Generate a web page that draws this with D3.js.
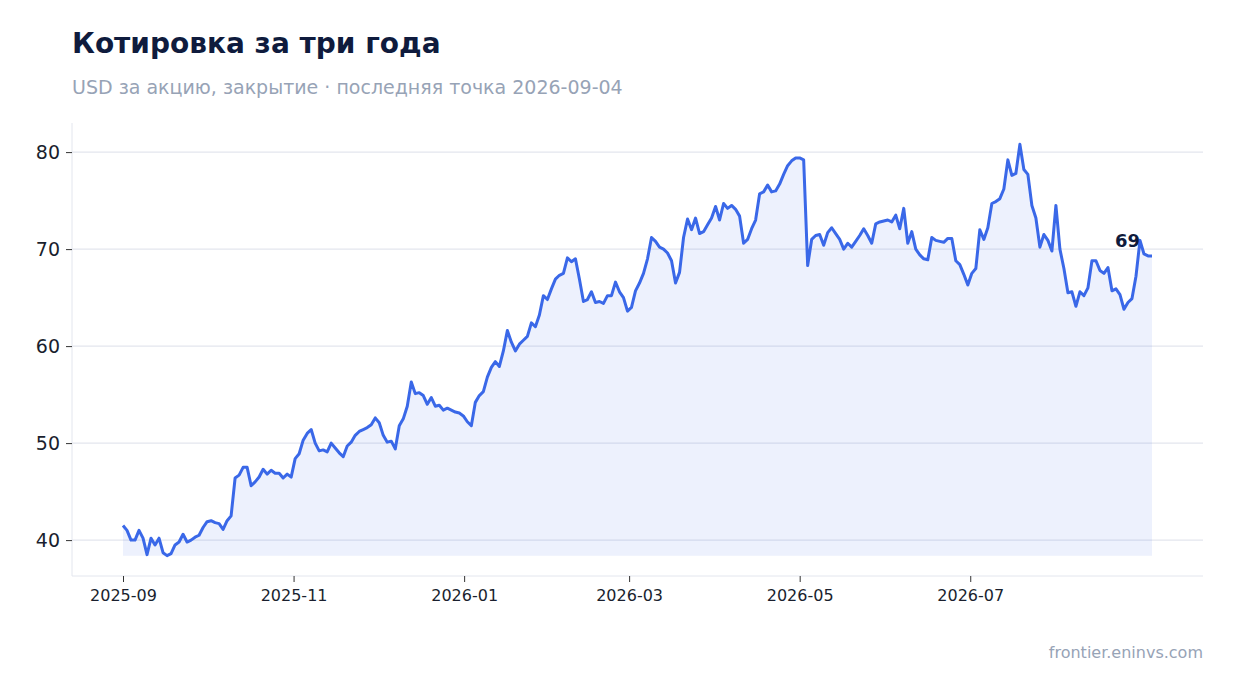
<!DOCTYPE html>
<html><head><meta charset="utf-8">
<script src="https://cdn.jsdelivr.net/npm/d3@7"></script>
<style>body{margin:0;background:#fff;font-family:"DejaVu Sans",sans-serif}</style>
</head><body><svg id="c" width="1234" height="693"></svg>
<script>
const startDate = "2025-09-01";
const endDate = "2026-09-04";
const prices = [41.5,41,40,40,41,40.2,38.5,40.2,39.5,40.2,38.7,38.4,38.6,39.5,39.8,40.6,39.8,40,40.3,40.5,41.3,41.9,42,41.8,41.7,41.1,42,42.5,46.4,46.7,47.5,47.5,45.6,46,46.5,47.3,46.8,47.2,46.9,46.9,46.4,46.8,46.5,48.4,48.9,50.3,51,51.4,50,49.2,49.3,49.1,50,49.5,49,48.6,49.7,50.1,50.8,51.2,51.4,51.6,51.9,52.6,52.1,50.8,50.1,50.2,49.4,51.8,52.5,53.8,56.3,55.1,55.2,54.9,54,54.7,53.8,53.9,53.4,53.6,53.4,53.2,53.1,52.8,52.2,51.8,54.2,54.9,55.3,56.8,57.8,58.4,57.9,59.5,61.6,60.4,59.5,60.2,60.6,61,62.4,62,63.2,65.2,64.8,65.9,66.9,67.3,67.5,69.1,68.7,69,66.9,64.6,64.8,65.6,64.5,64.6,64.4,65.2,65.2,66.6,65.6,65,63.6,64,65.7,66.5,67.5,69,71.2,70.8,70.2,70,69.6,68.8,66.5,67.6,71.2,73.1,72,73.2,71.6,71.8,72.5,73.2,74.4,73,74.7,74.2,74.5,74.1,73.4,70.6,71,72.1,73,75.7,75.9,76.6,75.9,76,76.7,77.7,78.6,79.1,79.4,79.4,79.2,68.3,71,71.4,71.5,70.4,71.7,72.2,71.6,71,70,70.6,70.2,70.8,71.4,72.1,71.4,70.6,72.6,72.8,72.9,73,72.8,73.5,72.1,74.2,70.6,71.8,70,69.4,69,68.9,71.2,70.9,70.8,70.7,71.1,71.1,68.8,68.4,67.4,66.3,67.5,68,72,71,72.2,74.7,74.9,75.2,76.2,79.2,77.6,77.8,80.8,78.2,77.7,74.5,73.2,70.2,71.5,70.9,69.8,74.5,70,68,65.5,65.6,64.1,65.6,65.2,66,68.8,68.8,67.8,67.5,68.1,65.7,65.9,65.3,63.8,64.5,64.9,67.2,70.9,69.5,69.3,69.3];
const yTicks = [40,50,60,70,80];
const xTickDates = ["2025-09-01","2025-11-01","2026-01-01","2026-03-01","2026-05-01","2026-07-01"];

const parse = d3.utcParse("%Y-%m-%d");
const t0 = parse(startDate), t1 = parse(endDate);
const n = prices.length;
const data = prices.map((v,i)=>({d:new Date(+t0 + (t1-t0)*i/(n-1)), v}));

const svg = d3.select("#c");
const L=72,R=1203,T=123,B=576;
const x = d3.scaleUtc().domain([t0,t1]).range([123,1152]);
const y = d3.scaleLinear().domain([36.3,83]).range([B,T]);

svg.append("text").attr("x",72).attr("y",53).attr("font-size",28).attr("font-weight","bold").attr("fill","#0f1b3d").text("Котировка за три года");
svg.append("text").attr("x",72).attr("y",94).attr("font-size",19).attr("fill","#97a3b6").text("USD за акцию, закрытие · последняя точка 2026-09-04");

svg.append("g").selectAll("line").data(yTicks).join("line")
  .attr("x1",L).attr("x2",R).attr("y1",d=>y(d)).attr("y2",d=>y(d)).attr("stroke","#e3e6ee").attr("stroke-width",1.2);

const minV = d3.min(prices);
svg.append("path").datum(data).attr("fill","#3a68e8").attr("fill-opacity",0.09)
  .attr("d",d3.area().x(d=>x(d.d)).y0(y(minV)).y1(d=>y(d.v)));
svg.append("path").datum(data).attr("fill","none").attr("stroke","#3a68e8").attr("stroke-width",3).attr("stroke-linejoin","round")
  .attr("d",d3.line().x(d=>x(d.d)).y(d=>y(d.v)));

const ya = svg.append("g").attr("transform",`translate(${L},0)`).call(d3.axisLeft(y).tickValues(yTicks).tickSize(6).tickPadding(6));
ya.select(".domain").attr("stroke","#e3e6ee").attr("d",`M0,${T}V${B}`);
ya.selectAll(".tick line").attr("stroke","#333");
ya.selectAll("text").attr("font-size",19).attr("fill","#1a1f2e").attr("font-family","DejaVu Sans");

const xa = svg.append("g").attr("transform",`translate(0,${B})`).call(d3.axisBottom(x).tickValues(xTickDates.map(parse)).tickFormat(d3.utcFormat("%Y-%m")).tickSize(6).tickPadding(8));
xa.select(".domain").attr("stroke","#e3e6ee").attr("d",`M${L},0H${R}`);
xa.selectAll(".tick line").attr("stroke","#333");
xa.selectAll("text").attr("font-size",16).attr("fill","#1a1f2e").attr("font-family","DejaVu Sans");

const last = data[n-1];
svg.append("text").attr("x",x(last.d)-12).attr("y",y(last.v)-9).attr("text-anchor","end").attr("font-size",18).attr("font-weight","bold").attr("fill","#0f1b3d").text(Math.round(last.v));

svg.append("text").attr("x",R).attr("y",658).attr("text-anchor","end").attr("font-size",16).attr("fill","#97a3b6").text("frontier.eninvs.com");
</script></body></html>
